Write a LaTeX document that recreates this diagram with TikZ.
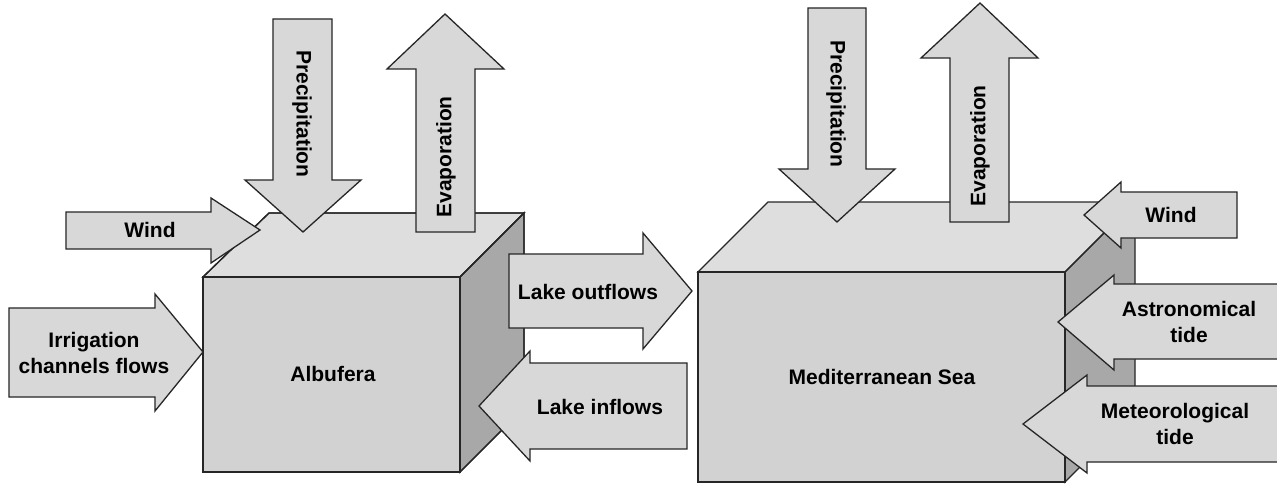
\documentclass[tikz,border=0pt]{standalone}
\usepackage{fontspec}
\setmainfont{Liberation Sans}
\definecolor{frontgray}{HTML}{D2D2D2}
\definecolor{topgray}{HTML}{DEDEDE}
\definecolor{sidegray}{HTML}{A8A8A8}
\definecolor{arrowgray}{HTML}{D8D8D8}
\definecolor{edgegray}{HTML}{262626}
\tikzset{
  face/.style={draw=edgegray, line width=1.3pt, line join=miter},
  flowarrow/.style={draw=edgegray, fill=arrowgray, line width=1.3pt, line join=miter},
  lbl/.style={font=\bfseries\fontsize{21}{25.5}\selectfont, align=center, inner sep=0pt, text=black}
}
\begin{document}
\begin{tikzpicture}[x=1pt,y=-1pt]
\useasboundingbox[fill=white] (0,0) rectangle (1277,487);
% Albufera cube
\fill[face, fill=topgray] (203,277) -- (269,213) -- (524,213) -- (460,277) -- cycle;
\fill[face, fill=sidegray] (460,277) -- (524,213) -- (524,408) -- (460,472) -- cycle;
\filldraw[face, fill=frontgray] (203,277) rectangle (460,472);
\draw[face] (203,277) -- (269,213) -- (524,213) -- (460,277) -- cycle;
\draw[face] (460,277) -- (524,213) -- (524,408) -- (460,472) -- cycle;
\node[lbl] (albufera) at (333,374) {Albufera};
% Mediterranean cube
\fill[fill=topgray] (698,272) -- (768,202) -- (1135,202) -- (1065,272) -- cycle;
\fill[fill=sidegray] (1065,272) -- (1135,202) -- (1135,412) -- (1065,482) -- cycle;
\draw[face] (698,272) -- (768,202) -- (1135,202) -- (1065,272) -- cycle;
\draw[face] (1065,272) -- (1135,202) -- (1135,412) -- (1065,482) -- cycle;
\filldraw[face, fill=frontgray] (698,272) rectangle (1065,482);
\node[lbl] (med) at (882,377) {Mediterranean Sea};
% Albufera arrows
\draw[flowarrow] (66,212) -- (211,212) -- (211,198) -- (260,230) -- (211,263) -- (211,249) -- (66,249) -- cycle;
\node[lbl] (windL) at (150,230) {Wind};
\draw[flowarrow] (9,308) -- (155,308) -- (155,294) -- (203,352) -- (155,411) -- (155,397) -- (9,397) -- cycle;
\node[lbl] (irrig) at (94,353) {Irrigation\\channels flows};
\draw[flowarrow] (273,19) -- (332,19) -- (332,180) -- (361,180) -- (303,232) -- (245,180) -- (273,180) -- cycle;
\node[lbl, rotate=-90] (precL) at (302,114) {Precipitation};
\draw[flowarrow] (416,232) -- (416,69) -- (387,69) -- (445,14) -- (504,69) -- (475,69) -- (475,232) -- cycle;
\node[lbl, rotate=90] (evapL) at (446,157) {Evaporation};
\draw[flowarrow] (509,254) -- (643,254) -- (643,233) -- (692,291) -- (643,349) -- (643,328) -- (509,328) -- cycle;
\node[lbl] (outfl) at (588,292) {Lake outflows};
\draw[flowarrow] (687,363) -- (530,363) -- (530,351) -- (479,406) -- (530,461) -- (530,449) -- (687,449) -- cycle;
\node[lbl] (infl) at (600,407) {Lake inflows};
% Mediterranean arrows
\draw[flowarrow] (808,8) -- (866,8) -- (866,169) -- (895,169) -- (837,222) -- (779,169) -- (808,169) -- cycle;
\node[lbl, rotate=-90] (precR) at (836,104) {Precipitation};
\draw[flowarrow] (950,222) -- (950,58) -- (921,58) -- (980,3) -- (1038,58) -- (1009,58) -- (1009,222) -- cycle;
\node[lbl, rotate=90] (evapR) at (980,146) {Evaporation};
\draw[flowarrow] (1237,192) -- (1121,192) -- (1121,182) -- (1084,215) -- (1121,248) -- (1121,238) -- (1237,238) -- cycle;
\node[lbl] (windR) at (1171,215) {Wind};
\draw[flowarrow] (1282,284) -- (1114,284) -- (1114,275) -- (1058,322) -- (1114,370) -- (1114,359) -- (1282,359) -- cycle;
\node[lbl] (astro) at (1189,322) {Astronomical\\tide};
\draw[flowarrow] (1282,386) -- (1087,386) -- (1087,375) -- (1023,424) -- (1087,473) -- (1087,462) -- (1282,462) -- cycle;
\node[lbl] (meteo) at (1175,424) {Meteorological\\tide};
\end{tikzpicture}
\end{document}
